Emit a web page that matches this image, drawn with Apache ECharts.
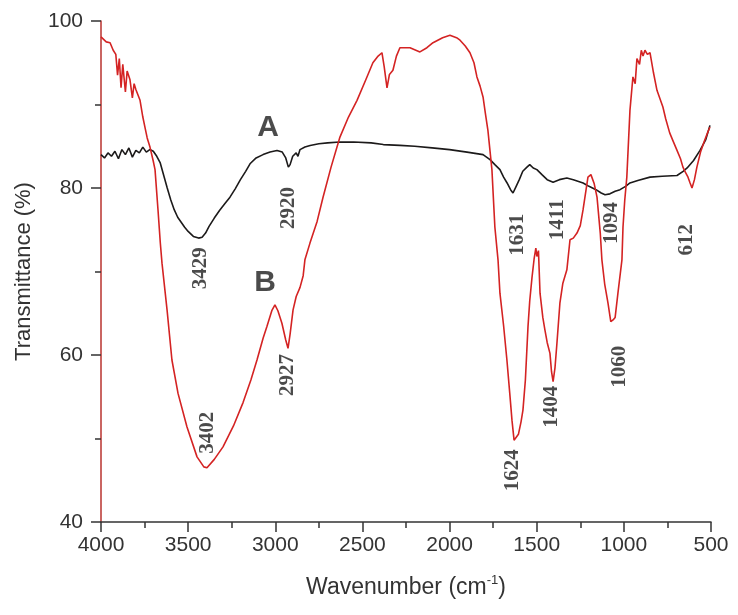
<!DOCTYPE html>
<html>
<head>
<meta charset="utf-8">
<script src="https://cdn.jsdelivr.net/npm/echarts@6/dist/echarts.min.js"></script>
<style>html,body{margin:0;padding:0;background:#fff}#c{width:738px;height:615px}</style>
</head>
<body>
<div id="c"></div>
<script>
// Wavenumber (cm-1), transmittance (%)
const seriesA = [
[4000,84.0],[3980,83.6],[3960,84.2],[3940,83.8],[3920,84.4],[3900,83.5],[3880,84.6],[3860,84.0],[3840,84.8],[3820,83.7],
[3800,84.5],[3780,84.2],[3760,84.9],[3740,84.3],[3720,84.6],[3700,84.4],[3680,83.8],[3660,83.0],[3640,81.5],[3620,80.0],
[3600,78.6],[3580,77.4],[3560,76.5],[3540,75.9],[3520,75.3],[3500,74.8],[3470,74.2],[3440,74.0],[3420,74.1],[3400,74.6],
[3380,75.4],[3350,76.4],[3320,77.3],[3290,78.1],[3260,78.9],[3230,79.9],[3200,81.0],[3170,82.0],[3145,82.9],[3110,83.6],
[3070,84.0],[3030,84.3],[2990,84.5],[2960,84.3],[2940,83.6],[2925,82.5],[2915,82.8],[2900,83.8],[2880,84.2],[2870,83.8],
[2858,84.6],[2830,84.9],[2800,85.1],[2750,85.3],[2700,85.4],[2630,85.5],[2550,85.5],[2450,85.4],[2380,85.2],[2285,85.1],
[2200,85.0],[2100,84.8],[2000,84.6],[1900,84.3],[1808,84.0],[1768,83.4],[1740,82.8],[1711,82.2],[1690,81.3],[1670,80.6],
[1650,79.8],[1636,79.4],[1620,80.1],[1600,81.0],[1580,82.0],[1556,82.5],[1540,82.8],[1520,82.4],[1499,82.2],[1470,81.6],
[1440,81.0],[1406,80.7],[1370,81.0],[1327,81.2],[1290,81.0],[1234,80.6],[1200,80.2],[1160,79.8],[1130,79.4],[1108,79.2],
[1080,79.3],[1050,79.6],[1022,79.8],[990,80.2],[965,80.6],[920,80.9],[850,81.3],[780,81.4],[695,81.5],[660,82.0],
[637,82.4],[600,83.3],[563,84.5],[530,85.8],[506,87.5]
];
const seriesB = [
[4000,98.1],[3985,97.8],[3970,97.5],[3948,97.4],[3930,96.5],[3915,96.0],[3905,93.5],[3895,95.5],[3885,92.0],[3875,94.8],
[3860,91.5],[3850,94.0],[3834,93.0],[3820,90.8],[3810,92.5],[3800,91.8],[3776,90.5],[3760,88.5],[3748,87.3],[3735,86.0],
[3719,84.9],[3700,83.2],[3690,82.2],[3673,77.4],[3660,73.5],[3650,71.0],[3621,65.4],[3593,59.4],[3558,55.4],[3507,51.4],
[3449,47.8],[3410,46.6],[3392,46.5],[3350,47.5],[3300,49.0],[3240,51.5],[3185,54.3],[3140,57.0],[3105,59.4],[3070,62.0],
[3048,63.4],[3020,65.3],[3002,66.0],[2985,65.3],[2962,63.8],[2940,61.8],[2927,60.8],[2915,62.5],[2898,65.4],[2880,67.0],
[2858,68.1],[2840,69.5],[2830,71.4],[2801,73.4],[2760,76.0],[2726,78.9],[2680,82.5],[2629,86.1],[2580,88.5],[2531,90.5],
[2480,93.0],[2440,95.0],[2410,95.8],[2388,96.2],[2375,94.5],[2359,92.0],[2345,93.6],[2325,94.1],[2305,95.8],[2285,96.8],
[2227,96.8],[2170,96.3],[2130,96.8],[2095,97.4],[2040,98.0],[1998,98.3],[1960,98.0],[1940,97.7],[1910,97.0],[1883,96.2],
[1860,95.0],[1843,93.3],[1825,92.2],[1808,90.9],[1795,89.0],[1780,86.9],[1757,82.2],[1740,75.3],[1722,71.4],[1711,67.4],
[1690,63.5],[1671,59.4],[1655,55.5],[1642,52.2],[1630,49.8],[1620,49.6],[1605,50.5],[1590,52.0],[1579,53.4],[1565,57.0],
[1550,63.4],[1540,66.5],[1527,69.3],[1515,71.5],[1505,72.8],[1499,71.8],[1490,72.5],[1481,67.4],[1465,64.5],[1453,63.0],
[1440,61.5],[1424,60.2],[1415,58.0],[1406,56.8],[1395,58.5],[1384,61.4],[1367,66.2],[1350,68.6],[1327,70.2],[1309,73.8],
[1290,74.0],[1269,74.6],[1250,75.5],[1234,77.4],[1206,81.3],[1189,81.6],[1170,80.5],[1154,78.9],[1135,74.5],[1126,71.4],
[1110,68.5],[1091,66.2],[1075,64.0],[1062,64.2],[1050,64.5],[1034,67.4],[1011,71.4],[1005,75.3],[995,78.5],[983,81.3],
[965,89.3],[948,93.3],[935,92.5],[925,95.5],[910,94.8],[900,96.5],[890,95.8],[879,96.5],[865,96.0],[850,96.2],
[830,93.8],[810,91.7],[776,89.7],[760,88.3],[737,86.6],[715,85.5],[695,84.5],[675,83.5],[661,82.5],[645,81.8],
[632,81.3],[620,80.6],[609,80.0],[595,81.0],[581,82.5],[560,84.3],[540,85.5],[520,86.6],[506,87.3]
];
// peak annotation labels: [wavenumber, transmittance at label centre, text]
const peakLabels = [
[3426,70.4,'3429'],[2921,77.6,'2920'],[3386,50.7,'3402'],[2927,57.6,'2927'],
[1608,74.4,'1631'],[1378,76.2,'1411'],[1068,75.8,'1094'],[638,73.8,'612'],
[1636,46.2,'1624'],[1412,53.8,'1404'],[1022,58.6,'1060']
];
const curveNames = [[3042,87.2,'A'],[3059,68.6,'B']];
const xTicks = [4000,3500,3000,2500,2000,1500,1000,500];
const yTicks = [40,60,80,100];

const chart = echarts.init(document.getElementById('c'), null, {renderer:'canvas'});
chart.setOption({
  animation:false,
  backgroundColor:'#fff',
  grid:{left:101,right:27,top:21,bottom:93,containLabel:false},
  xAxis:{type:'value',inverse:true,min:500,max:4000,interval:500,
    name:'Wavenumber (cm{sup|-1})',nameLocation:'middle',nameGap:52,
    nameTextStyle:{fontFamily:'Liberation Sans',fontSize:23,color:'#333',
      rich:{sup:{fontFamily:'Liberation Sans',fontSize:13,color:'#333',padding:[0,0,14,0]}}},
    axisLine:{lineStyle:{color:'#333',width:1.5}},
    axisTick:{inside:false,length:10,lineStyle:{color:'#333',width:1.5}},
    minorTick:{show:true,splitNumber:2,length:6,lineStyle:{color:'#333',width:1.5}},
    axisLabel:{fontFamily:'Liberation Sans',fontSize:21,color:'#333',margin:13,
      formatter:v=>xTicks.includes(v)?String(v):''},
    splitLine:{show:false}},
  yAxis:{type:'value',min:40,max:100,interval:20,
    name:'Transmittance (%)',nameLocation:'middle',nameGap:66,
    nameTextStyle:{fontFamily:'Liberation Sans',fontSize:22,color:'#333'},
    axisLine:{lineStyle:{color:'#b8322e',width:1.5}},
    axisTick:{inside:false,length:10,lineStyle:{color:'#333',width:1.5}},
    minorTick:{show:true,splitNumber:2,length:6,lineStyle:{color:'#333',width:1.5}},
    axisLabel:{fontFamily:'Liberation Sans',fontSize:21,color:'#333',margin:18,
      formatter:v=>yTicks.includes(v)?String(v):''},
    splitLine:{show:false}},
  series:[
    {type:'line',name:'A',data:seriesA,showSymbol:false,symbol:'none',
      lineStyle:{color:'#1c1a1a',width:1.6},z:3},
    {type:'line',name:'B',data:seriesB,showSymbol:false,symbol:'none',
      lineStyle:{color:'#d42323',width:1.6},z:4},
    {type:'scatter',data:peakLabels.map(p=>({value:[p[0],p[1]],name:p[2]})),
      symbolSize:1,itemStyle:{color:'rgba(0,0,0,0)'},silent:true,z:5,
      label:{show:true,position:'inside',rotate:90,formatter:p=>p.name,
        fontFamily:'Liberation Serif',fontWeight:'bold',fontSize:21,color:'#1e1e1e',
        align:'center',verticalAlign:'middle'}},
    {type:'scatter',data:curveNames.map(p=>({value:[p[0],p[1]],name:p[2]})),
      symbolSize:1,itemStyle:{color:'rgba(0,0,0,0)'},silent:true,z:5,
      label:{show:true,position:'inside',formatter:p=>p.name,
        fontFamily:'Liberation Sans',fontWeight:'bold',fontSize:30,
        color:(p=>p.name==='A'?'#1c1a1a':'#e5461f'),
        align:'center',verticalAlign:'middle'}}
  ]
});
</script>
</body>
</html>
